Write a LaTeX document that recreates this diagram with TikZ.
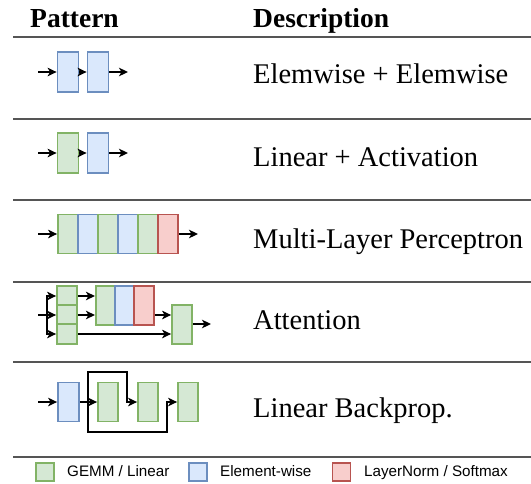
\documentclass[tikz,border=0pt]{standalone}
\usepackage{fontspec}
\setmainfont{Liberation Serif}
\newfontfamily\legfont{Liberation Sans}
\usetikzlibrary{arrows.meta}
\definecolor{gfill}{HTML}{D5E8D4}
\definecolor{gstroke}{HTML}{82B366}
\definecolor{bfill}{HTML}{DAE8FC}
\definecolor{bstroke}{HTML}{6C8EBF}
\definecolor{rfill}{HTML}{F8CECC}
\definecolor{rstroke}{HTML}{B85450}
\definecolor{rulegray}{HTML}{555555}
\tikzset{
  blk/.style={draw, line width=1.8pt, inner sep=0pt, minimum width=20pt, minimum height=39pt},
  gb/.style={blk, draw=gstroke, fill=gfill},
  bb/.style={blk, draw=bstroke, fill=bfill},
  rb/.style={blk, draw=rstroke, fill=rfill},
  ar/.style={-{Stealth[length=9pt,width=8.5pt,inset=2.5pt]}, line width=1.9pt},
  hrule/.style={draw=rulegray, line width=1.4pt},
  desc/.style={anchor=base west, inner sep=0pt, font=\fontsize{28.5}{32}\selectfont},
  head/.style={anchor=base west, inner sep=0pt, font=\fontsize{27.5}{31}\selectfont\bfseries},
  leg/.style={anchor=base west, inner sep=0pt, font=\legfont\fontsize{15.2}{18}\selectfont},
  sq/.style={draw, line width=1.8pt, inner sep=0pt, minimum width=18pt, minimum height=18pt},
}
\begin{document}
\begin{tikzpicture}[x=1pt,y=-1pt]
\useasboundingbox (0,0) rectangle (531,483);
% header
\node[head] (hp) at (30,27) {Pattern};
\node[head] (hd) at (253,27) {Description};
% rules
\coordinate (l0a) at (13,37);  \coordinate (l0b) at (531,37);
\coordinate (l1a) at (13,119); \coordinate (l1b) at (531,119);
\coordinate (l2a) at (13,200); \coordinate (l2b) at (531,200);
\coordinate (l3a) at (13,282); \coordinate (l3b) at (531,282);
\coordinate (l4a) at (13,362); \coordinate (l4b) at (531,362);
\coordinate (l5a) at (13,457); \coordinate (l5b) at (531,457);
\draw[hrule] (l0a) -- (l0b);
\draw[hrule] (l1a) -- (l1b);
\draw[hrule] (l2a) -- (l2b);
\draw[hrule] (l3a) -- (l3b);
\draw[hrule] (l4a) -- (l4b);
\draw[hrule] (l5a) -- (l5b);
% row 1
\node[bb, minimum width=21pt, minimum height=40pt] (r1a) at (68,72) {};
\node[bb, minimum width=21pt, minimum height=40pt] (r1b) at (98,72) {};
\coordinate (r1in) at (38,72);
\coordinate (r1out) at (128,72);
\draw[ar] (r1in) -- (r1a);
\draw[ar] (r1a) -- (r1b);
\draw[ar] (r1b) -- (r1out);
\node[desc] (t1) at (253,83) {Elemwise + Elemwise};
% row 2
\node[gb, minimum width=21pt, minimum height=40pt] (r2a) at (68,153) {};
\node[bb, minimum width=21pt, minimum height=40pt] (r2b) at (98,153) {};
\coordinate (r2in) at (38,153);
\coordinate (r2out) at (128,153);
\draw[ar] (r2in) -- (r2a);
\draw[ar] (r2a) -- (r2b);
\draw[ar] (r2b) -- (r2out);
\node[desc] (t2) at (253,166) {Linear + Activation};
% row 3
\node[gb] (m1) at (68,234) {};
\node[bb] (m2) at (88,234) {};
\node[gb] (m3) at (108,234) {};
\node[bb] (m4) at (128,234) {};
\node[gb] (m5) at (148,234) {};
\node[rb] (m6) at (168,234) {};
\coordinate (r3in) at (38,234);
\coordinate (r3out) at (198,234);
\draw[ar] (r3in) -- (m1);
\draw[ar] (m6) -- (r3out);
\node[desc] (t3) at (253,248) {Multi-Layer Perceptron};
% row 4
\node[gb, minimum height=19.3pt] (s1) at (67,296) {};
\node[gb, minimum height=19.3pt] (s2) at (67,315) {};
\node[gb, minimum height=19.3pt] (s3) at (67,334) {};
\node[gb, minimum width=19.3pt] (b1) at (105.5,305.5) {};
\node[bb, minimum width=19.3pt] (b2) at (124.5,305.5) {};
\node[rb, minimum width=19.3pt] (b3) at (144,305.5) {};
\node[gb] (rr) at (182,324.5) {};
\coordinate (r4in) at (38,315);
\coordinate (r4j) at (47,315);
\coordinate (r4out) at (211,324);
\draw[ar] (r4in) -- (s2);
\draw[ar] (r4j) |- (s1.west);
\draw[ar] (r4j) |- (s3.west);
\draw[ar] (s1.east) -- (s1.east -| b1.west);
\draw[ar] (s2.east) -- (s2.east -| b1.west);
\draw[ar] (b3.east |- s2.east) -- (s2.east -| rr.west);
\draw[ar] (s3.east) -- (s3.east -| rr.west);
\draw[ar] (rr.east |- r4out) -- (r4out);
\node[desc] (t4) at (253,329) {Attention};
% row 5
\node[bb, minimum width=21pt] (e1) at (68.5,402) {};
\node[gb] (g1) at (108,402) {};
\node[gb] (g2) at (148,402) {};
\node[gb] (g3) at (188,402) {};
\coordinate (r5in) at (38,402);
\coordinate (r5j) at (88,402);
\draw[ar] (r5in) -- (e1);
\draw[ar] (e1) -- (g1);
\draw[ar] (r5j) -- ++(0,-30) -| ([xshift=-10pt]g2.west) -- (g2.west);
\draw[ar] (r5j) -- ++(0,30) -| ([xshift=-10pt]g3.west) -- (g3.west);
\node[desc] (t5) at (253,417) {Linear Backprop.};
% legend
\node[sq, draw=gstroke, fill=gfill] (lg) at (45,472) {};
\node[leg] (lgt) at (67,476) {GEMM / Linear};
\node[sq, draw=bstroke, fill=bfill] (lb) at (198,472) {};
\node[leg] (lbt) at (220,476) {Element-wise};
\node[sq, draw=rstroke, fill=rfill] (lr) at (341.5,472) {};
\node[leg] (lrt) at (364,476) {LayerNorm / Softmax};
\end{tikzpicture}
\end{document}
